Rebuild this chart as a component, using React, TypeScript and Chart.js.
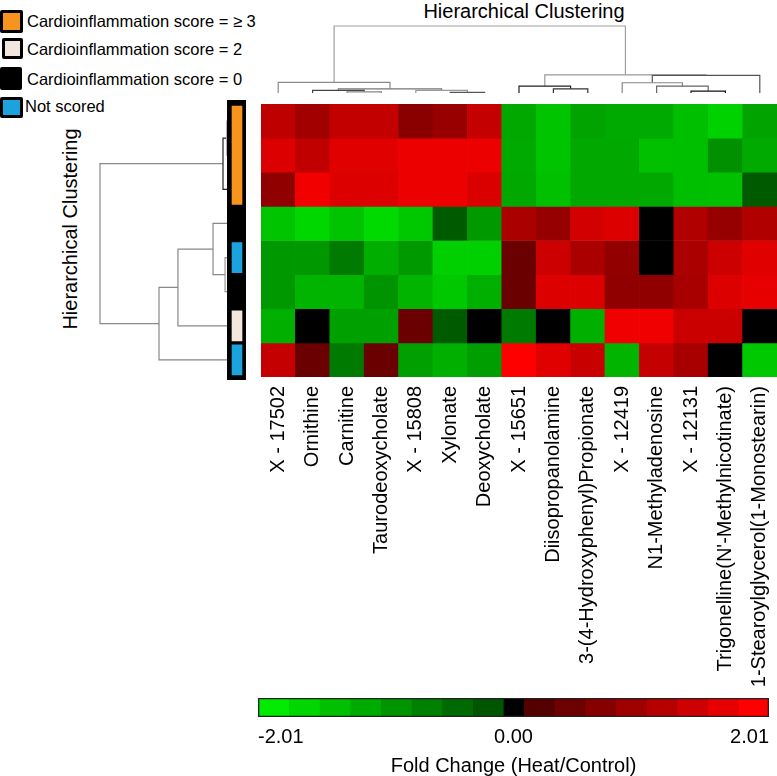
import React, { useEffect, useRef } from 'react';
import { Chart, registerables } from 'chart.js';

Chart.register(...registerables);
Chart.defaults.font.family = '"Liberation Sans", Arial, sans-serif';
Chart.defaults.color = '#000';

// ---------- data ----------
const METABOLITES = [
  'X - 17502', 'Ornithine', 'Carnitine', 'Taurodeoxycholate', 'X - 15808', 'Xylonate',
  'Deoxycholate', 'X - 15651', 'Diisopropanolamine', '3-(4-Hydroxyphenyl)Propionate',
  'X - 12419', 'N1-Methyladenosine', 'X - 12131', "Trigonelline(N'-Methylnicotinate)",
  '1-Stearoylglycerol(1-Monostearin)',
];

const SAMPLE_1 = [1.27, 0.93, 1.33, 1.33, 0.68, 0.84, 1.35, -1.15, -1.51, -1.08, -1.17, -1.17, -1.43, -1.69, -1.08];
const SAMPLE_2 = [1.62, 1.29, 1.66, 1.66, 1.79, 1.79, 1.79, -1.17, -1.51, -1.15, -1.15, -1.46, -1.43, -0.84, -1.17];
const SAMPLE_3 = [0.75, 1.86, 1.62, 1.62, 1.79, 1.79, 1.59, -1.15, -1.46, -1.15, -1.15, -1.15, -1.43, -1.46, -0.14];
const SAMPLE_4 = [-1.51, -1.74, -1.51, -1.79, -1.56, -0.14, -0.97, 1.04, 0.82, 1.5, 1.61, 0, 1.11, 0.82, 1.11];
const SAMPLE_5 = [-0.94, -0.94, -0.56, -1.23, -0.97, -1.66, -1.66, 0.32, 1.43, 1.04, 0.77, 0, 1.04, 1.43, 1.66];
const SAMPLE_6 = [-0.94, -1.3, -1.3, -0.89, -1.3, -1.56, -1.25, 0.32, 1.61, 1.61, 0.75, 0.75, 1.02, 1.61, 1.73];
const SAMPLE_7 = [-1.25, 0, -1.04, -1.04, 0.32, -0.14, 0, -0.56, 0, -1.25, 1.84, 1.84, 1.41, 1.41, 0];
const SAMPLE_8 = [1.34, 0.32, -0.56, 0.32, -1.04, -1.25, -1.02, 2.01, 1.66, 1.39, -1.3, 1.34, 1.02, 0, -1.56];
const SAMPLES = [SAMPLE_1, SAMPLE_2, SAMPLE_3, SAMPLE_4, SAMPLE_5, SAMPLE_6, SAMPLE_7, SAMPLE_8];

// cardioinflammation group of each sample row
const SAMPLE_GROUPS = ['ge3', 'ge3', 'ge3', 'zero', 'ns', 'zero', 'two', 'ns'];

const LEGEND_GROUPS = ['ge3', 'two', 'zero', 'ns'];
const LEGEND_LABELS = [
  'Cardioinflammation score = \u2265 3',
  'Cardioinflammation score = 2',
  'Cardioinflammation score = 0',
  'Not scored',
];

// linkage: [childA, childB, height]; ids < n are leaves, ids >= n are earlier merges
const COL_LINKAGE: [number, number, number][] = [
  [5, 6, 0.1], [2, 3, 0.18], [1, 16, 0.38], [4, 15, 0.4], [17, 18, 0.63], [0, 19, 1.6],
  [12, 13, 0.29], [8, 9, 0.63], [11, 21, 1.02], [7, 22, 1.02], [10, 23, 1.53],
  [25, 14, 2.62], [24, 26, 2.72], [20, 27, 10],
];
const COL_LINK_COLORS = ['#555', '#888', '#444', '#999', '#777', '#8a8a8a', '#111', '#333', '#666', '#222', '#888', '#555', '#999', '#a0a0a0'];

const ROW_LINKAGE: [number, number, number][] = [
  [0, 1, 0.1], [4, 5, 0.23], [8, 2, 0.39], [3, 9, 1.17], [11, 6, 3.91], [12, 7, 5.39], [10, 13, 10],
];
const ROW_LINK_COLORS = ['#aaa', '#999', '#222', '#888', '#888', '#888', '#888'];

const COLOR_TICKS = [-2.01, 0, 2.01];
const FOLD_MAX = 2.01;
const ZERO_BAND = 0.08;

// ---------- helpers ----------
const GROUP_COLORS: Record<string, string> = {
  ge3: '#f7941d',
  two: '#f3e6dc',
  zero: '#000000',
  ns: '#1ca2dc',
};

function foldColor(v: number) {
  const a = Math.abs(v);
  if (a < ZERO_BAND) return '#000000';
  const s = Math.min(1, (a - ZERO_BAND) / (FOLD_MAX - ZERO_BAND));
  if (v > 0) return `rgb(${Math.round(85 + 170 * s)},0,0)`;
  return `rgb(0,${Math.round(85 + 150 * s)},0)`;
}

function dendroSegments(linkage: [number, number, number][], n: number) {
  const pos: number[] = [];
  const hgt: number[] = [];
  for (let i = 0; i < n; i++) { pos[i] = i; hgt[i] = 0; }
  const segs: { a: [number, number]; b: [number, number]; h: number; ha: number; hb: number }[] = [];
  linkage.forEach(([l, r, h], i) => {
    segs.push({ a: [pos[l], hgt[l]], b: [pos[r], hgt[r]], h, ha: hgt[l], hb: hgt[r] });
    pos[n + i] = (pos[l] + pos[r]) / 2;
    hgt[n + i] = h;
  });
  return segs;
}

const FONT = '"Liberation Sans", Arial, sans-serif';

function ChartBox(props: { left: number; top: number; width: number; height: number; bg?: string; make: () => any }) {
  const ref = useRef<HTMLCanvasElement>(null);
  useEffect(() => {
    const chart = new Chart(ref.current as HTMLCanvasElement, props.make());
    return () => chart.destroy();
  }, []);
  return (
    <div style={{ position: 'absolute', left: props.left, top: props.top, width: props.width, height: props.height, background: props.bg }}>
      <canvas ref={ref} width={props.width} height={props.height} style={{ display: 'block', width: props.width, height: props.height }} />
    </div>
  );
}

const basePlugins = { legend: { display: false }, tooltip: { enabled: false }, title: { display: false } };

// ---------- charts ----------
const HM_H = 590;
function heatmapConfig() {
  return {
    type: 'bar',
    data: {
      labels: METABOLITES,
      datasets: SAMPLES.map((row, r) => ({
        data: row.map(() => [r, r + 1]),
        backgroundColor: row.map((v) => foldColor(v)),
        borderWidth: 0,
        grouped: false,
        barPercentage: 1,
        categoryPercentage: 1,
      })),
    },
    options: {
      responsive: false,
      animation: false,
      layout: { padding: { left: 0, right: 24, top: 0, bottom: 0 } },
      plugins: basePlugins,
      scales: {
        x: {
          type: 'category',
          grid: { display: false, drawTicks: false },
          border: { display: false },
          ticks: { autoSkip: false, maxRotation: 90, minRotation: 90, padding: 9, font: { size: 20 }, color: '#000' },
          afterFit: (s: any) => { s.height = HM_H - 273; },
        },
        y: { type: 'linear', display: false, min: 0, max: 8, reverse: true },
      },
    },
  };
}

function topDendroConfig() {
  const segs = dendroSegments(COL_LINKAGE, METABOLITES.length);
  return {
    type: 'scatter',
    data: {
      datasets: segs.map((s, i) => ({
        data: [
          { x: s.a[0], y: s.ha }, { x: s.a[0], y: s.h }, { x: s.b[0], y: s.h }, { x: s.b[0], y: s.hb },
        ],
        showLine: true,
        borderColor: COL_LINK_COLORS[i],
        borderWidth: 1.2,
        pointRadius: 0,
        tension: 0,
        clip: false,
      })),
    },
    options: {
      responsive: false,
      animation: false,
      plugins: basePlugins,
      scales: {
        x: { type: 'linear', display: false, min: -0.5, max: 14.5 },
        y: { type: 'linear', display: false, min: -1.0448, max: 11.642 },
      },
    },
  };
}

function leftDendroConfig() {
  const segs = dendroSegments(ROW_LINKAGE, SAMPLES.length);
  return {
    type: 'scatter',
    data: {
      datasets: segs.map((s, i) => ({
        data: [
          { y: s.a[0], x: s.ha }, { y: s.a[0], x: s.h }, { y: s.b[0], x: s.h }, { y: s.b[0], x: s.hb },
        ],
        showLine: true,
        borderColor: ROW_LINK_COLORS[i],
        borderWidth: 1.2,
        pointRadius: 0,
        tension: 0,
        clip: false,
      })),
    },
    options: {
      responsive: false,
      animation: false,
      plugins: basePlugins,
      scales: {
        x: { type: 'linear', display: false, min: -0.15625, max: 10.78125, reverse: true },
        y: { type: 'linear', display: false, min: -0.5, max: 7.5, reverse: true },
      },
    },
  };
}

function groupBarConfig() {
  const runs: { g: string; s: number; e: number }[] = [];
  SAMPLE_GROUPS.forEach((g, i) => {
    const last = runs[runs.length - 1];
    if (last && last.g === g) last.e = i + 1;
    else runs.push({ g, s: i, e: i + 1 });
  });
  return {
    type: 'bar',
    data: {
      labels: ['group'],
      datasets: runs.map((run) => ({
        data: [[run.s, run.e]],
        backgroundColor: GROUP_COLORS[run.g],
        borderColor: '#000',
        borderWidth: { left: 5, right: 4, top: 2, bottom: 2 },
        borderSkipped: false,
        grouped: false,
        barPercentage: 1,
        categoryPercentage: 1,
      })),
    },
    options: {
      responsive: false,
      animation: false,
      layout: { padding: { top: 4, bottom: 3, left: 0, right: 0 } },
      plugins: basePlugins,
      scales: {
        x: { type: 'category', display: false },
        y: { type: 'linear', display: false, min: 0, max: 8, reverse: true },
      },
    },
  };
}

function colorbarConfig() {
  const w = (FOLD_MAX - ZERO_BAND) / 8;
  const bins: { lo: number; hi: number; c: string }[] = [];
  for (let k = 7; k >= 0; k--) {
    bins.push({ lo: -(ZERO_BAND + (k + 1) * w), hi: -(ZERO_BAND + k * w), c: foldColor(-(ZERO_BAND + ((FOLD_MAX - ZERO_BAND) * k) / 7)) });
  }
  bins.push({ lo: -ZERO_BAND, hi: ZERO_BAND, c: '#000' });
  for (let k = 0; k < 8; k++) {
    bins.push({ lo: ZERO_BAND + k * w, hi: ZERO_BAND + (k + 1) * w, c: foldColor(ZERO_BAND + ((FOLD_MAX - ZERO_BAND) * k) / 7) });
  }
  const datasets: any[] = bins.map((b) => ({
    data: [[b.lo, b.hi]],
    backgroundColor: b.c,
    borderWidth: 0,
    grouped: false,
    barPercentage: 1,
    categoryPercentage: 1,
  }));
  datasets.push({
    data: [[-FOLD_MAX, FOLD_MAX]],
    backgroundColor: 'rgba(0,0,0,0)',
    borderColor: '#222',
    borderWidth: 1,
    borderSkipped: false,
    grouped: false,
    barPercentage: 1,
    categoryPercentage: 1,
    order: -1,
  });
  return {
    type: 'bar',
    data: { labels: ['scale'], datasets },
    options: {
      indexAxis: 'y',
      responsive: false,
      animation: false,
      layout: { padding: { left: 8, right: 3, top: 8, bottom: 0 } },
      plugins: basePlugins,
      scales: {
        y: { type: 'category', display: false },
        x: {
          type: 'linear',
          min: -FOLD_MAX,
          max: FOLD_MAX,
          grid: { display: false, drawTicks: false },
          border: { display: false },
          afterBuildTicks: (s: any) => { s.ticks = COLOR_TICKS.map((v) => ({ value: v })); },
          afterFit: (s: any) => { s.height = 59; },
          ticks: {
            autoSkip: false,
            maxRotation: 0,
            align: 'inner',
            padding: 8,
            font: { size: 20 },
            color: '#000',
            callback: (v: any) => Number(v).toFixed(2),
          },
          title: {
            display: true,
            text: 'Fold Change (Heat/Control)',
            font: { size: 20, lineHeight: 1 },
            padding: { top: 0, bottom: 0 },
            color: '#000',
          },
        },
      },
    },
  };
}

// ---------- legend ----------
const LEGEND_BOXES = [
  { left: 0, top: 10, w: 23, h: 23 },
  { left: 2, top: 38, w: 21, h: 21 },
  { left: 0, top: 67, w: 22, h: 23 },
  { left: 0, top: 97, w: 23, h: 21 },
];
const LEGEND_TEXT_Y = [21, 49, 79, 106];
const LEGEND_TEXT_X = [27, 27, 27, 25];

export default function App() {
  return (
    <div style={{ position: 'absolute', left: 0, top: 0, width: 777, height: 776, overflow: 'hidden', background: '#fff', fontFamily: FONT }}>
      {LEGEND_GROUPS.map((g, i) => (
        <React.Fragment key={g}>
          <div style={{
            position: 'absolute', left: LEGEND_BOXES[i].left, top: LEGEND_BOXES[i].top,
            width: LEGEND_BOXES[i].w, height: LEGEND_BOXES[i].h, boxSizing: 'border-box',
            border: '3px solid #000', borderRadius: 2, background: GROUP_COLORS[g],
          }} />
          <div style={{
            position: 'absolute', left: LEGEND_TEXT_X[i], top: LEGEND_TEXT_Y[i] - 11, height: 22,
            lineHeight: '22px', fontSize: 16.5, color: '#000', whiteSpace: 'nowrap',
          }}>{LEGEND_LABELS[i]}</div>
        </React.Fragment>
      ))}
      <div style={{ position: 'absolute', left: 404, top: 0, width: 240, height: 22, lineHeight: '22px', textAlign: 'center', fontSize: 20, color: '#000', whiteSpace: 'nowrap' }}>
        Hierarchical Clustering
      </div>
      <div style={{ position: 'absolute', left: 70 - 120, top: 229 - 12, width: 240, height: 24, lineHeight: '24px', textAlign: 'center', fontSize: 20, color: '#000', whiteSpace: 'nowrap', transform: 'rotate(-90deg)' }}>
        Hierarchical Clustering
      </div>
      <ChartBox left={261} top={15} width={516} height={85} make={topDendroConfig} />
      <ChartBox left={90} top={104} width={140} height={273} make={leftDendroConfig} />
      <ChartBox left={261} top={104} width={540} height={HM_H} make={heatmapConfig} />
      <ChartBox left={250} top={690} width={527} height={86} make={colorbarConfig} />
      <ChartBox left={227} top={100} width={19} height={280} bg="#000" make={groupBarConfig} />
    </div>
  );
}
